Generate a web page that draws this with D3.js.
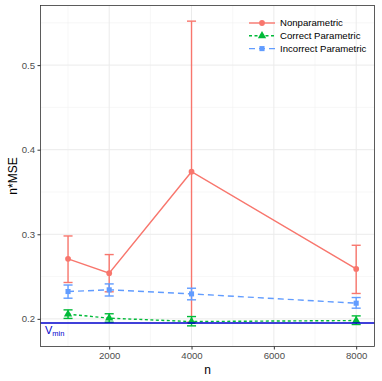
<!DOCTYPE html>
<html>
<head>
<meta charset="utf-8">
<script src="https://cdn.jsdelivr.net/npm/d3@7"></script>
<style>
  body { margin: 0; background: #fff; }
  text { font-family: "Liberation Sans", Arial, sans-serif; }
</style>
</head>
<body>
<div id="myChart"></div>
<script>
let svgW = 382;
let svgH = 381;

// data
const ns = [1000, 2000, 4000, 8000];
const seriesNames = ["Nonparametric", "Correct Parametric", "Incorrect Parametric"];
const nonparMean = [0.271, 0.254, 0.374, 0.259];
const nonparLow  = [0.243, 0.232, 0.196, 0.230];
const nonparHigh = [0.298, 0.276, 0.552, 0.287];
const corrMean = [0.2055, 0.2008, 0.1968, 0.198];
const corrLow  = [0.2005, 0.196, 0.1917, 0.1933];
const corrHigh = [0.2106, 0.206, 0.2027, 0.2035];
const incMean = [0.2323, 0.2343, 0.2295, 0.2185];
const incLow  = [0.2244, 0.227, 0.2225, 0.2126];
const incHigh = [0.240, 0.2413, 0.2362, 0.2252];
const vmin = 0.195;
const xTicks = [2000, 4000, 6000, 8000];
const yTicks = [0.2, 0.3, 0.4, 0.5];

const colors = ["#F8766D", "#00BA38", "#619CFF"];
const dashes = [null, "3,2.5", "6,4"];
const shapes = [d3.symbolCircle, d3.symbolTriangle, d3.symbolSquare];

const series = [
  { mean: nonparMean, low: nonparLow, high: nonparHigh },
  { mean: corrMean, low: corrLow, high: corrHigh },
  { mean: incMean, low: incLow, high: incHigh }
];

let pLeft = 40.5, pRight = 374.5, pTop = 5.5, pBottom = 346.5;

let svg = d3.select("#myChart").append("svg")
  .attr("width", svgW)
  .attr("height", svgH);

let x = d3.scaleLinear().domain([331, 8445]).range([pLeft, pRight]);
let y = d3.scaleLinear().domain([0.1673, 0.5705]).range([pBottom, pTop]);

// grid
const minorX = [1000, 3000, 5000, 7000];
const minorY = [0.25, 0.35, 0.45, 0.55];
svg.selectAll(".mx").data(minorX).enter().append("line")
  .attr("x1", d => x(d)).attr("x2", d => x(d))
  .attr("y1", pTop).attr("y2", pBottom)
  .style("stroke", "#F2F2F2").style("stroke-width", 0.6);
svg.selectAll(".my").data(minorY).enter().append("line")
  .attr("y1", d => y(d)).attr("y2", d => y(d))
  .attr("x1", pLeft).attr("x2", pRight)
  .style("stroke", "#F2F2F2").style("stroke-width", 0.6);
svg.selectAll(".gx").data(xTicks).enter().append("line")
  .attr("x1", d => x(d)).attr("x2", d => x(d))
  .attr("y1", pTop).attr("y2", pBottom)
  .style("stroke", "#EBEBEB").style("stroke-width", 1);
svg.selectAll(".gy").data(yTicks).enter().append("line")
  .attr("y1", d => y(d)).attr("y2", d => y(d))
  .attr("x1", pLeft).attr("x2", pRight)
  .style("stroke", "#EBEBEB").style("stroke-width", 1);

// series
const capHalf = 110;
series.forEach((s, k) => {
  let g = svg.append("g");
  // error bars
  ns.forEach((n, i) => {
    g.append("line")
      .attr("x1", x(n)).attr("x2", x(n))
      .attr("y1", y(s.low[i])).attr("y2", y(s.high[i]))
      .style("stroke", colors[k]).style("stroke-width", 1.4);
    [s.low[i], s.high[i]].forEach(v => {
      g.append("line")
        .attr("x1", x(n - capHalf)).attr("x2", x(n + capHalf))
        .attr("y1", y(v)).attr("y2", y(v))
        .style("stroke", colors[k]).style("stroke-width", 1.4);
    });
  });
  let line = d3.line().x((d, i) => x(ns[i])).y(d => y(d));
  g.append("path")
    .datum(s.mean)
    .attr("d", line)
    .attr("fill", "none")
    .style("stroke", colors[k])
    .style("stroke-width", 1.4)
    .style("stroke-dasharray", dashes[k]);
  g.selectAll("path.pt").data(s.mean).enter().append("path")
    .attr("class", "pt")
    .attr("transform", (d, i) => "translate(" + x(ns[i]) + "," + y(d) + ")")
    .attr("d", d3.symbol().type(shapes[k]).size(k == 1 ? 30 : 26))
    .attr("fill", colors[k]);
});

// Vmin line
svg.append("line")
  .attr("x1", pLeft).attr("x2", pRight)
  .attr("y1", y(vmin)).attr("y2", y(vmin))
  .style("stroke", "#0000CD").style("stroke-width", 1.6);
let vt = svg.append("text")
  .attr("x", 45).attr("y", 334)
  .attr("fill", "#0000CD")
  .style("font-size", "11px");
vt.append("tspan").text("V");
vt.append("tspan").attr("dy", 2).style("font-size", "7.5px").text("min");

// panel border
svg.append("rect")
  .attr("x", pLeft).attr("y", pTop)
  .attr("width", pRight - pLeft).attr("height", pBottom - pTop)
  .attr("fill", "none")
  .style("stroke", "#333333").style("stroke-width", 0.8);

// axes
let xAxis = svg.append("g")
  .attr("transform", "translate(0," + pBottom + ")")
  .call(d3.axisBottom(x).tickValues(xTicks).tickSize(3).tickPadding(2.5).tickFormat(d3.format("d")));
let yAxis = svg.append("g")
  .attr("transform", "translate(" + pLeft + ",0)")
  .call(d3.axisLeft(y).tickValues(yTicks).tickSize(3).tickPadding(2.5).tickFormat(d3.format(".1f")));
[xAxis, yAxis].forEach(a => {
  a.select(".domain").remove();
  a.selectAll(".tick line").style("stroke", "#333333");
  a.selectAll(".tick text")
    .style("fill", "#4D4D4D")
    .style("font-size", "9.6px")
    .style("font-family", "Liberation Sans, Arial, sans-serif");
});

svg.append("text")
  .attr("x", (pLeft + pRight) / 2).attr("y", 373.5)
  .attr("text-anchor", "middle")
  .style("font-size", "12px")
  .text("n");
svg.append("text")
  .attr("transform", "translate(16.5," + (pTop + pBottom) / 2 + ") rotate(-90)")
  .attr("text-anchor", "middle")
  .style("font-size", "12px")
  .text("n*MSE");

// legend
let legend = svg.append("g");
seriesNames.forEach((name, k) => {
  let ly = 23 + k * 12.8;
  legend.append("line")
    .attr("x1", 249).attr("x2", 275)
    .attr("y1", ly).attr("y2", ly)
    .style("stroke", colors[k]).style("stroke-width", 1.4)
    .style("stroke-dasharray", dashes[k]);
  legend.append("path")
    .attr("transform", "translate(262," + ly + ")")
    .attr("d", d3.symbol().type(shapes[k]).size(k == 1 ? 30 : 26))
    .attr("fill", colors[k]);
  legend.append("text")
    .attr("x", 280).attr("y", ly + 3.4)
    .style("font-size", "9.6px")
    .text(name);
});
</script>
</body>
</html>
